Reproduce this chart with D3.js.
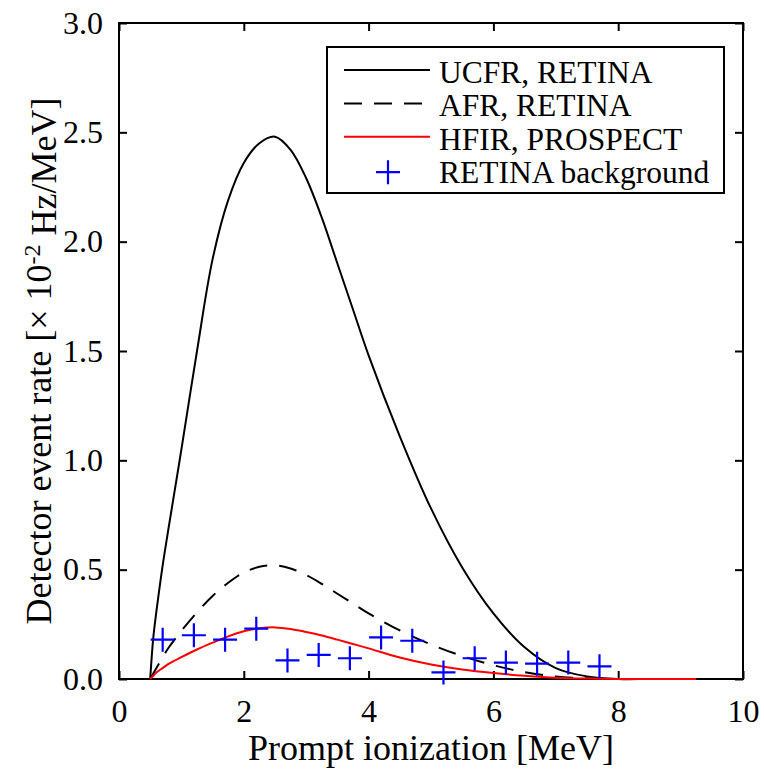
<!DOCTYPE html>
<html>
<head>
<meta charset="utf-8">
<script src="https://cdn.jsdelivr.net/npm/d3@7"></script>
<style>
  body { margin: 0; background: #fff; }
  svg { display: block; font-family: "Liberation Serif", "Times New Roman", serif; }
</style>
</head>
<body>
<svg id="chart" width="764" height="774"></svg>
<script>
// energy grid [MeV]
var energy = [0.5, 0.55, 0.6, 0.7, 0.8, 1.0, 1.25, 1.5, 1.75, 2.0, 2.25, 2.5, 2.75, 3.0, 3.25, 3.5, 3.75, 4.0, 4.5, 5.0, 5.5, 6.0, 6.5, 7.0, 7.5, 8.0, 8.5, 9.0, 9.25];
// rates [x 10^-2 Hz/MeV]
var ucfr = [0, 0.19, 0.31, 0.52, 0.70, 1.05, 1.50, 1.92, 2.19, 2.36, 2.45, 2.48, 2.42, 2.29, 2.11, 1.90, 1.69, 1.48, 1.11, 0.78, 0.51, 0.30, 0.145, 0.05, 0.012, 0.0, 0, 0, 0];
var afr = [0, 0.025, 0.05, 0.10, 0.145, 0.22, 0.305, 0.38, 0.44, 0.487, 0.513, 0.52, 0.505, 0.475, 0.435, 0.39, 0.345, 0.30, 0.222, 0.158, 0.105, 0.063, 0.031, 0.011, 0.003, 0, 0, 0, 0];
var hfir = [0, 0.015, 0.03, 0.05, 0.07, 0.10, 0.135, 0.166, 0.195, 0.218, 0.232, 0.236, 0.229, 0.215, 0.199, 0.18, 0.16, 0.14, 0.098, 0.066, 0.043, 0.027, 0.015, 0.006, 0.002, 0.0005, 0, 0, 0];

// RETINA background points
var bgEnergy = [0.7, 1.2, 1.7, 2.2, 2.7, 3.2, 3.7, 4.2, 4.7, 5.2, 5.7, 6.2, 6.7, 7.2, 7.7];
var bgRate = [0.18, 0.20, 0.18, 0.23, 0.085, 0.11, 0.095, 0.19, 0.175, 0.03, 0.095, 0.075, 0.07, 0.075, 0.058];

var xTicks = [0, 2, 4, 6, 8, 10];
var yTicks = [0, 0.5, 1.0, 1.5, 2.0, 2.5, 3.0];

var legendLabels = ["UCFR, RETINA", "AFR, RETINA", "HFIR, PROSPECT", "RETINA background"];

var margin = {top: 23, right: 21, bottom: 95, left: 119},
    width = 764 - margin.left - margin.right,
    height = 774 - margin.top - margin.bottom;

var svg = d3.select("#chart");
var g = svg.append("g").attr("transform", "translate(" + margin.left + "," + margin.top + ")");

var x = d3.scaleLinear().domain([0, 10]).range([0, width]);
var y = d3.scaleLinear().domain([0, 3]).range([height, 0]);

// axes first, ticks inward on all four sides
var fs = 32;
g.append("g").attr("transform", "translate(0," + height + ")")
    .call(d3.axisBottom(x).tickValues(xTicks).tickSize(-8).tickPadding(20).tickFormat(d3.format("d")));
g.append("g")
    .call(d3.axisLeft(y).tickValues(yTicks).tickSize(-8).tickPadding(16).tickFormat(d3.format(".1f")));
g.append("g")
    .call(d3.axisTop(x).tickValues(xTicks).tickSize(-8).tickFormat(""));
g.append("g").attr("transform", "translate(" + width + ",0)")
    .call(d3.axisRight(y).tickValues(yTicks).tickSize(-8).tickFormat(""));

g.selectAll(".domain").remove();
g.selectAll(".tick line").attr("stroke", "#000").attr("stroke-width", 2);
g.selectAll(".tick text")
    .attr("fill", "#000")
    .style("font-family", "Liberation Serif")
    .style("font-size", fs + "px");

g.append("rect")
    .attr("width", width).attr("height", height)
    .attr("fill", "none").attr("stroke", "#000").attr("stroke-width", 2);

// curves
function series(vals) {
    return energy.map(function(e, i) { return {x: e, y: vals[i]}; });
}
var line = d3.line()
    .x(function(d) { return x(d.x); })
    .y(function(d) { return y(d.y); })
    .curve(d3.curveCatmullRom.alpha(0.5));

g.append("path").datum(series(ucfr))
    .attr("d", line).attr("fill", "none").attr("stroke", "#000").attr("stroke-width", 2);
g.append("path").datum(series(afr))
    .attr("d", line).attr("fill", "none").attr("stroke", "#000").attr("stroke-width", 2)
    .attr("stroke-dasharray", "18,12");
g.append("path").datum(series(hfir))
    .attr("d", line).attr("fill", "none").attr("stroke", "#ff0000").attr("stroke-width", 2);

// plus markers
var pts = bgEnergy.map(function(e, i) { return {x: e, y: bgRate[i]}; });
function plusPath(s) {
    return "M" + (-s) + ",0H" + s + "M0," + (-s) + "V" + s;
}
g.selectAll("path.bg").data(pts).enter()
    .append("path")
    .attr("class", "bg")
    .attr("transform", function(d) { return "translate(" + x(d.x) + "," + y(d.y) + ")"; })
    .attr("d", plusPath(12))
    .attr("stroke", "#0000ff")
    .attr("stroke-width", 2.2)
    .attr("fill", "none");

// axis titles
svg.append("text")
    .attr("x", margin.left + width / 2)
    .attr("y", 760)
    .attr("text-anchor", "middle")
    .style("font-size", "36px")
    .text("Prompt ionization [MeV]");

var yl = svg.append("text")
    .attr("transform", "translate(51,361) rotate(-90)")
    .attr("text-anchor", "middle")
    .style("font-size", "36px");
yl.append("tspan").text("Detector event rate [\u00d7 10");
yl.append("tspan").attr("dy", "-0.45em").style("font-size", "24px").text("-2");
yl.append("tspan").attr("dy", "0.45em").text(" Hz/MeV]");

// legend
var leg = svg.append("g");
leg.append("rect")
    .attr("x", 327).attr("y", 47).attr("width", 397).attr("height", 146)
    .attr("fill", "#fff").attr("stroke", "#000").attr("stroke-width", 2);

var legStyles = [
    {stroke: "#000", dash: null},
    {stroke: "#000", dash: "18,12"},
    {stroke: "#ff0000", dash: null},
    {stroke: "#0000ff", dash: null}
];
legendLabels.forEach(function(lab, i) {
    var by = 83 + i * 33.4;
    if (i < 3) {
        leg.append("line")
            .attr("x1", 344).attr("x2", 430)
            .attr("y1", by - 13).attr("y2", by - 13)
            .attr("stroke", legStyles[i].stroke).attr("stroke-width", 2)
            .attr("stroke-dasharray", legStyles[i].dash);
    } else {
        leg.append("path")
            .attr("transform", "translate(388," + (by - 11) + ")")
            .attr("d", plusPath(12))
            .attr("stroke", "#0000ff").attr("stroke-width", 2.2).attr("fill", "none");
    }
    leg.append("text")
        .attr("x", 439).attr("y", by)
        .style("font-size", "31.5px")
        .text(lab);
});
</script>
</body>
</html>
